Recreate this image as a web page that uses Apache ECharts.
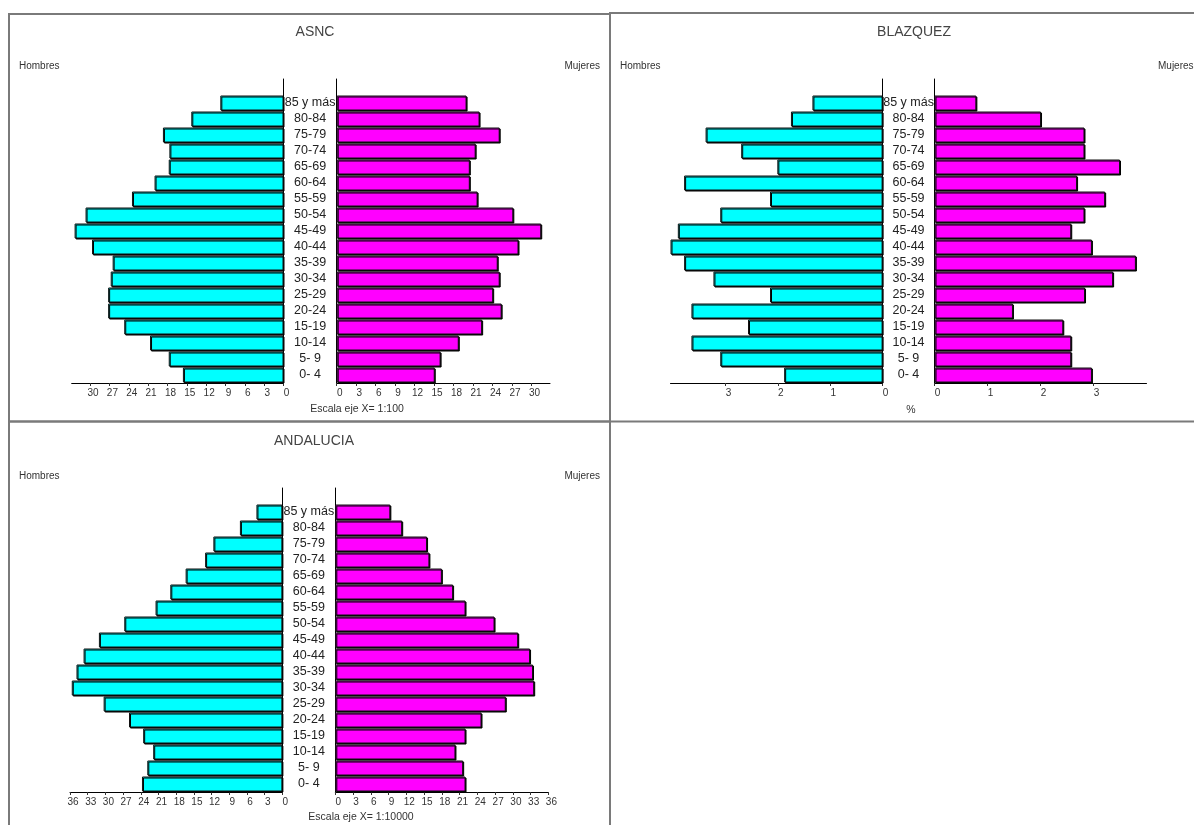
<!DOCTYPE html>
<html>
<head>
<meta charset="utf-8">
<title>Pirámides de población</title>
<script src="https://cdn.jsdelivr.net/npm/echarts@6/dist/echarts.min.js"></script>
<style>
  html, body { margin: 0; padding: 0; background: #fff; }
  #chart { width: 1194px; height: 825px; }
</style>
</head>
<body>
<div id="chart"></div>
<script>
// Age groups, youngest first (drawn bottom to top)
const ageGroups = ['0- 4', '5- 9', '10-14', '15-19', '20-24', '25-29', '30-34', '35-39', '40-44',
  '45-49', '50-54', '55-59', '60-64', '65-69', '70-74', '75-79', '80-84', '85 y más'];

// ASNC (escala 1:100)
const asncHombres = [15.6, 17.8, 20.7, 24.7, 27.2, 27.2, 26.8, 26.5, 29.7, 32.4, 30.7, 23.5, 20.0, 17.8, 17.7, 18.7, 14.3, 9.8];
const asncMujeres = [15.1, 16.0, 18.8, 22.4, 25.4, 24.1, 25.1, 24.8, 28.0, 31.5, 27.2, 21.7, 20.5, 20.5, 21.4, 25.1, 22.0, 20.0];

// BLAZQUEZ (%)
const blazHombres = [1.88, 3.10, 3.65, 2.57, 3.65, 2.15, 3.23, 3.79, 4.05, 3.91, 3.10, 2.15, 3.79, 2.01, 2.70, 3.38, 1.75, 1.34];
const blazMujeres = [2.97, 2.58, 2.58, 2.43, 1.48, 2.84, 3.37, 3.80, 2.97, 2.58, 2.83, 3.22, 2.69, 3.50, 2.83, 2.83, 2.01, 0.79];

// ANDALUCIA (escala 1:10000)
const andHombres = [23.8, 22.9, 21.9, 23.6, 26.0, 30.3, 35.7, 34.9, 33.7, 31.1, 26.8, 21.5, 19.0, 16.4, 13.1, 11.7, 7.2, 4.4];
const andMujeres = [22.0, 21.6, 20.3, 22.0, 24.7, 28.8, 33.6, 33.4, 32.9, 30.9, 26.9, 22.0, 19.9, 18.0, 15.9, 15.5, 11.3, 9.3];

// Tick labels for each horizontal axis
const ticksAsnc = [0, 3, 6, 9, 12, 15, 18, 21, 24, 27, 30];
const ticksBlaz = [0, 1, 2, 3];
const ticksAnd = [0, 3, 6, 9, 12, 15, 18, 21, 24, 27, 30, 33, 36];

const titles = ['ASNC', 'BLAZQUEZ', 'ANDALUCIA'];
const scaleNotes = ['Escala eje X= 1:100', '%', 'Escala eje X= 1:10000'];
const sideLabels = ['Hombres', 'Mujeres'];

const COLOR_H = '#00ffff';
const COLOR_M = '#ff00ff';
const NARROW = '"Liberation Sans Narrow", "Liberation Sans", Arial, sans-serif';
const SANS = '"Liberation Sans", Arial, sans-serif';

// an empty slot above the oldest group leaves a short stub of the centre axes
const cats = ageGroups.concat(['']);

// panel layout: [left grid x, left width, right grid x, right width, top, max left, max right, ticks]
const panels = [
  { lx: 71.7, lw: 211.8, rx: 336.7, rw: 213.3, top: 79, maxL: 32.85, maxR: 32.85, ticks: ticksAsnc, h: asncHombres, m: asncMujeres },
  { lx: 670.5, lw: 212.1, rx: 934.5, rw: 212, top: 79, maxL: 4.05, maxR: 4.0, ticks: ticksBlaz, h: blazHombres, m: blazMujeres },
  { lx: 70.0, lw: 212.4, rx: 335.3, rw: 213.1, top: 488, maxL: 36, maxR: 36, ticks: ticksAnd, h: andHombres, m: andMujeres }
];

const grids = [], xAxes = [], yAxes = [], series = [];

function xAxisDef(gi, max, ticks, inverse) {
  return {
    type: 'value', gridIndex: gi, min: 0, max: max, inverse: inverse,
    axisLine: { show: true, lineStyle: { color: '#000', width: 1 } },
    axisTick: { show: true, length: 3, customValues: ticks, lineStyle: { color: '#333' } },
    axisLabel: { customValues: ticks, fontFamily: NARROW, fontSize: 10, color: '#333', margin: 5, padding: [0, 0, 0, 6] },
    splitLine: { show: false }
  };
}

function yAxisDef(gi, position, withLabels, margin) {
  return {
    type: 'category', gridIndex: gi, data: cats, position: position,
    axisLine: { show: true, onZero: false, lineStyle: { color: '#000', width: 1 } },
    axisTick: { show: false },
    axisLabel: withLabels
      ? { show: true, interval: 0, align: 'center', margin: margin, fontFamily: SANS, fontSize: 12.5, color: '#222' }
      : { show: false }
  };
}

function barStyle(color) {
  return {
    color: color, borderColor: '#111', borderWidth: 1,
    shadowColor: '#000', shadowOffsetX: 1, shadowOffsetY: 1, shadowBlur: 0
  };
}

panels.forEach((p, i) => {
  const gL = grids.length;
  grids.push({ left: p.lx, top: p.top, width: p.lw, height: 304 });
  grids.push({ left: p.rx, top: p.top, width: p.rw, height: 304 });
  const gR = gL + 1;
  xAxes.push(xAxisDef(gL, p.maxL, p.ticks, true));
  xAxes.push(xAxisDef(gR, p.maxR, p.ticks, false));
  const mid = (p.lx + p.lw + p.rx) / 2;
  yAxes.push(yAxisDef(gL, 'right', true, mid - (p.lx + p.lw)));
  yAxes.push(yAxisDef(gR, 'left', false, 0));
  series.push({
    name: 'Hombres', type: 'bar', xAxisIndex: gL, yAxisIndex: gL,
    data: p.h, barWidth: 15, itemStyle: barStyle(COLOR_H), silent: true
  });
  series.push({
    name: 'Mujeres', type: 'bar', xAxisIndex: gR, yAxisIndex: gR,
    data: p.m, barWidth: 15, itemStyle: barStyle(COLOR_M), silent: true
  });
});

// panel frames and free texts
const frames = [
  { x: 9, y: 14, w: 601, h: 407.5 },
  { x: 610, y: 13, w: 600, h: 408.5 },
  { x: 9, y: 421.5, w: 601, h: 420 }
];
const graphic = [];
frames.forEach(f => {
  graphic.push({ type: 'rect', shape: { x: f.x, y: f.y, width: f.w, height: f.h },
    style: { fill: 'none', stroke: '#7a7a7a', lineWidth: 2 }, silent: true, z: -1 });
});
const sideTextY = [66.5, 66.5, 476];
const sideX = [[19, 600], [620, 1194], [19, 600]];
panels.forEach((p, i) => {
  graphic.push({ type: 'text', x: sideX[i][0], y: sideTextY[i],
    style: { text: sideLabels[0], font: '10px ' + SANS, fill: '#333', textVerticalAlign: 'middle', textAlign: 'left' } });
  graphic.push({ type: 'text', x: i === 1 ? 1158 : sideX[i][1], y: sideTextY[i],
    style: { text: sideLabels[1], font: '10px ' + SANS, fill: '#333', textVerticalAlign: 'middle', textAlign: i === 1 ? 'left' : 'right' } });
});
const noteX = [357, 911, 361];
const noteY = [409, 410, 817];
scaleNotes.forEach((t, i) => {
  graphic.push({ type: 'text', x: noteX[i], y: noteY[i],
    style: { text: t, font: '10.5px ' + SANS, fill: '#333', textAlign: 'center', textVerticalAlign: 'middle' } });
});

const titleX = [310, 909, 309];
const titleTop = [20, 20, 429];
const title = titles.map((t, i) => ({
  text: t, left: titleX[i], top: titleTop[i], textAlign: 'center',
  textStyle: { fontFamily: SANS, fontSize: 14, fontWeight: 'normal', color: '#444' }
}));

const chart = echarts.init(document.getElementById('chart'), null, { renderer: 'canvas' });
chart.setOption({
  animation: false,
  backgroundColor: '#fff',
  title: title,
  grid: grids,
  xAxis: xAxes,
  yAxis: yAxes,
  series: series,
  graphic: graphic
});
</script>
</body>
</html>
